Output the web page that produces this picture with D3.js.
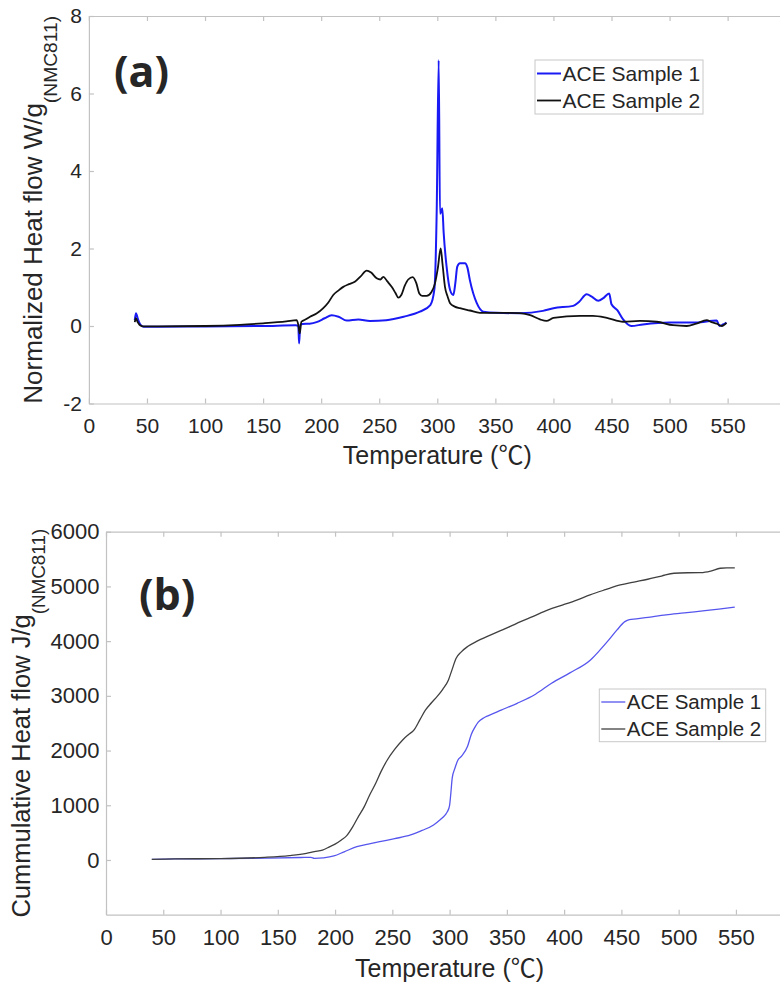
<!DOCTYPE html>
<html>
<head>
<meta charset="utf-8">
<script src="https://cdn.jsdelivr.net/npm/d3@7"></script>
<style>
  html, body { margin: 0; padding: 0; background: #fff; overflow: hidden; }
  svg { display: block; }
  text { font-family: "Liberation Sans", Arial, Helvetica, sans-serif; fill: #262626; }
</style>
</head>
<body>
<div id="chart"></div>
<script>
// ---- data ----
// (a) normalized heat flow, W/g
const tempA1 = [39.5, 40.5, 42, 44, 47, 60, 100, 150, 178, 180.3, 181, 182, 184, 190, 196,
  203, 209, 215, 222, 232, 242, 256, 271, 285, 294, 297.5, 299.5, 301.2, 302.3, 303.3,
  304.3, 305.5, 308, 311, 313.8, 315.5, 317.2, 319.5, 323.8, 326, 328, 334, 339.6, 351, 371,
  391, 400, 417, 422, 428.6, 433, 438.6, 443, 448, 450, 455, 460, 467, 477, 500,
  523, 540.6, 543, 546, 549];
const flowA1 = [0.15, 0.33, 0.2, 0.05, -0.02, -0.02, -0.01, 0.0, 0.02, 0.0, -0.45, 0.03, 0.05, 0.06, 0.10,
  0.2, 0.28, 0.24, 0.14, 0.17, 0.13, 0.15, 0.24, 0.37, 0.54, 0.95, 3.0, 6.86, 2.9, 2.95,
  3.04, 2.4, 1.53, 0.93, 0.8, 1.1, 1.53, 1.62, 1.62, 1.5, 1.19, 0.59, 0.37, 0.34, 0.33,
  0.39, 0.46, 0.52, 0.62, 0.82, 0.76, 0.65, 0.72, 0.84, 0.56, 0.41, 0.17, 0.0, 0.04, 0.09,
  0.09, 0.14, 0.0, 0.04, 0.09];

const tempA2 = [39.5, 40.5, 42, 44, 47, 60, 100, 130, 150, 170, 179, 180.5, 181.5, 183, 186,
  190.4, 196, 201.8, 206, 210.4, 215, 219, 224, 229, 234, 239.2, 243, 247.8, 251, 253.5,
  257, 260.7, 264, 266.4, 269, 272, 275, 278.8, 282, 284.5, 287, 290.8, 295, 298, 300.5,
  302.9, 304.5, 306.6, 309, 311, 315, 319.5, 328, 336.7, 350, 359.7, 371, 380, 388.4, 394,
  400, 423, 434, 446, 460, 474.5, 489, 503, 514.7, 523, 532, 536, 540.6, 545, 549];
const flowA2 = [0.1, 0.2, 0.1, 0.02, -0.01, -0.01, 0.0, 0.03, 0.07, 0.12, 0.15, 0.0, -0.19, 0.11, 0.16,
  0.24, 0.32, 0.46, 0.6, 0.8, 0.92, 1.01, 1.08, 1.14, 1.28, 1.43, 1.38, 1.23, 1.2, 1.27,
  1.15, 1.01, 0.85, 0.73, 0.8, 1.04, 1.2, 1.26, 1.1, 0.84, 0.78, 0.78, 0.88, 1.1, 1.5,
  2.0, 1.6, 1.01, 0.75, 0.59, 0.5, 0.46, 0.40, 0.34, 0.34, 0.34, 0.33, 0.28, 0.17, 0.13,
  0.21, 0.26, 0.26, 0.21, 0.11, 0.13, 0.11, 0.02, 0.0, 0.06, 0.15, 0.1, 0.06, 0.0, 0.08];

// (b) cumulative heat flow, J/g
const tempB1 = [40, 60, 100, 140, 170, 179, 182, 190, 199, 208, 219, 229, 239, 252, 266,
  276, 286, 292, 296, 298, 300, 301, 302.3, 304.7, 307.3, 310.5, 315.7, 319, 322.4, 325,
  330, 334, 345, 359, 375, 389, 405, 423, 431, 439, 446, 453, 457, 463, 475,
  489, 505, 523, 535, 549];
const cumB1 = [10, 20, 25, 35, 45, 49, 31, 40, 73, 150, 244, 290, 335, 390, 457,
  540, 640, 740, 820, 880, 1000, 1200, 1500, 1680, 1828, 1900, 2080, 2300, 2437, 2520,
  2600, 2640, 2740, 2864, 3030, 3230, 3420, 3656, 3830, 4022, 4200, 4357, 4395, 4406, 4440,
  4479, 4515, 4558, 4585, 4620];

const tempB2 = [40, 60, 100, 138.6, 160, 175, 182, 189, 195.5, 200, 205.5, 210, 215.5, 220, 225.5,
  230, 235.5, 240, 245.6, 252, 259, 264, 269, 274, 279, 284, 289, 294, 299, 302,
  305.7, 310, 315.7, 324, 332.5, 342, 352.5, 362, 372.5, 386, 399, 411, 422.6, 436, 449,
  461, 473, 485, 496, 508, 519.6, 528, 536.3, 542, 549];
const cumB2 = [10, 20, 25, 49, 80, 120, 152, 180, 244, 290, 366, 440, 609, 780, 975,
  1180, 1402, 1610, 1828, 2020, 2194, 2290, 2377, 2560, 2742, 2870, 2985, 3120, 3291, 3470,
  3687, 3800, 3900, 4000, 4082, 4170, 4265, 4355, 4448, 4570, 4662, 4750, 4845, 4940, 5027,
  5080, 5131, 5190, 5241, 5250, 5252, 5280, 5332, 5338, 5338];

const seriesNames = ['ACE Sample 1', 'ACE Sample 2'];
const xTicks = [0, 50, 100, 150, 200, 250, 300, 350, 400, 450, 500, 550];
const yTicksA = [-2, 0, 2, 4, 6, 8];
const yTicksB = [0, 1000, 2000, 3000, 4000, 5000, 6000];

const W = 780, H = 983;
const svg = d3.select('#chart').append('svg')
  .attr('width', W)
  .attr('height', H)
  .attr('viewBox', [0, 0, W, H]);

const AXIS = '#c2c2c2';
const plain = d => String(d); // hyphen minus like the original, not U+2212

function drawPanel(cfg) {
  const x = d3.scaleLinear().domain([0, 600]).range([cfg.left, cfg.right]);
  const y = d3.scaleLinear().domain(cfg.yDomain).range([cfg.bottom, cfg.top]);
  const g = svg.append('g');

  // box with inward ticks
  const styleAxis = sel => {
    sel.selectAll('path, line').attr('stroke', AXIS).attr('stroke-width', 1.2);
    sel.selectAll('text').attr('fill', '#262626').style('font-size', cfg.tickFont + 'px');
  };
  g.append('g').attr('transform', `translate(0,${cfg.bottom})`)
    .call(d3.axisBottom(x).tickValues(xTicks).tickSizeInner(-5).tickSizeOuter(0)
      .tickPadding(cfg.xPad).tickFormat(plain))
    .call(styleAxis);
  g.append('g').attr('transform', `translate(0,${cfg.top})`)
    .call(d3.axisTop(x).tickValues(xTicks).tickSizeInner(-5).tickSizeOuter(0).tickFormat(''))
    .call(styleAxis);
  g.append('g').attr('transform', `translate(${cfg.left},0)`)
    .call(d3.axisLeft(y).tickValues(cfg.yTicks).tickSizeInner(-5).tickSizeOuter(0)
      .tickPadding(cfg.yPad).tickFormat(plain))
    .call(styleAxis);
  g.append('g').attr('transform', `translate(${cfg.right},0)`)
    .call(d3.axisRight(y).tickValues(cfg.yTicks).tickSizeInner(-5).tickSizeOuter(0).tickFormat(''))
    .call(styleAxis);

  // curves
  const line = d3.line()
    .x(d => x(d[0]))
    .y(d => y(d[1]))
    .curve(d3.curveMonotoneX);
  cfg.series.forEach(s => {
    g.append('path')
      .datum(d3.zip(s.t, s.v))
      .attr('fill', 'none')
      .attr('stroke', s.color)
      .attr('stroke-width', s.width)
      .attr('stroke-linejoin', 'round')
      .attr('d', line);
  });

  // legend
  const lg = cfg.legend;
  g.append('rect')
    .attr('x', lg.x).attr('y', lg.y).attr('width', lg.w).attr('height', lg.h)
    .attr('fill', '#fff').attr('stroke', '#c8c8c8').attr('stroke-width', 1);
  cfg.series.forEach((s, i) => {
    const ly = lg.y + lg.first + i * lg.step;
    g.append('line')
      .attr('x1', lg.x + 2).attr('x2', lg.x + 26)
      .attr('y1', ly).attr('y2', ly)
      .attr('stroke', s.color).attr('stroke-width', s.width);
    g.append('text')
      .attr('x', lg.x + 27.5).attr('y', ly)
      .attr('dy', '0.36em')
      .style('font-size', lg.font + 'px')
      .text(seriesNames[i]);
  });

  // panel tag
  g.append('text')
    .attr('x', cfg.tag.x).attr('y', cfg.tag.y)
    .style('font-family', '"Open Sans", "DejaVu Sans", sans-serif')
    .style('font-weight', 700)
    .style('font-size', '43px')
    .attr('fill', '#000')
    .text(cfg.tag.text);

  // x label
  const xl = g.append('text')
    .attr('x', (cfg.left + cfg.right) / 2)
    .attr('y', cfg.xLabelY)
    .attr('text-anchor', 'middle')
    .style('font-size', '25px');
  xl.append('tspan').text('Temperature (');
  xl.append('tspan').style('font-family', '"Noto Sans CJK SC", "DejaVu Sans", sans-serif').text('℃');
  xl.append('tspan').text(')');

  // y label with subscript
  const yl = g.append('text')
    .attr('transform', `translate(${cfg.yLabelX},${(cfg.top + cfg.bottom) / 2}) rotate(-90)`)
    .attr('text-anchor', 'middle')
    .style('font-size', cfg.yLabelFont + 'px');
  yl.append('tspan').text(cfg.yLabel);
  yl.append('tspan').attr('dy', 15).style('font-size', (cfg.yLabelFont * 0.74) + 'px').text('(NMC811)');
}

drawPanel({
  left: 88.9, right: 785.7, top: 16, bottom: 403.5,
  yDomain: [-2, 8], yTicks: yTicksA,
  tickFont: 21, xPad: 15, yPad: 7,
  series: [
    { t: tempA1, v: flowA1, color: '#1a1af5', width: 2 },
    { t: tempA2, v: flowA2, color: '#111111', width: 1.8 }
  ],
  legend: { x: 535, y: 60, w: 168, h: 54, first: 13.5, step: 27, font: 21 },
  tag: { x: 114, y: 87, text: '(a)' },
  xLabelY: 464,
  yLabelX: 41.5,
  yLabelFont: 26,
  yLabel: 'Normalized Heat flow W/g'
});

drawPanel({
  left: 106, right: 793.2, top: 531.7, bottom: 914.7,
  yDomain: [-1000, 6000], yTicks: yTicksB,
  tickFont: 22, xPad: 15, yPad: 6.5,
  series: [
    { t: tempB1, v: cumB1, color: '#5656ee', width: 1.3 },
    { t: tempB2, v: cumB2, color: '#404040', width: 1.3 }
  ],
  legend: { x: 599.3, y: 689, w: 166.4, h: 52.7, first: 13, step: 27, font: 20.5 },
  tag: { x: 139, y: 609.5, text: '(b)' },
  xLabelY: 977,
  yLabelX: 30,
  yLabelFont: 25.5,
  yLabel: 'Cummulative Heat flow J/g'
});
</script>
</body>
</html>
